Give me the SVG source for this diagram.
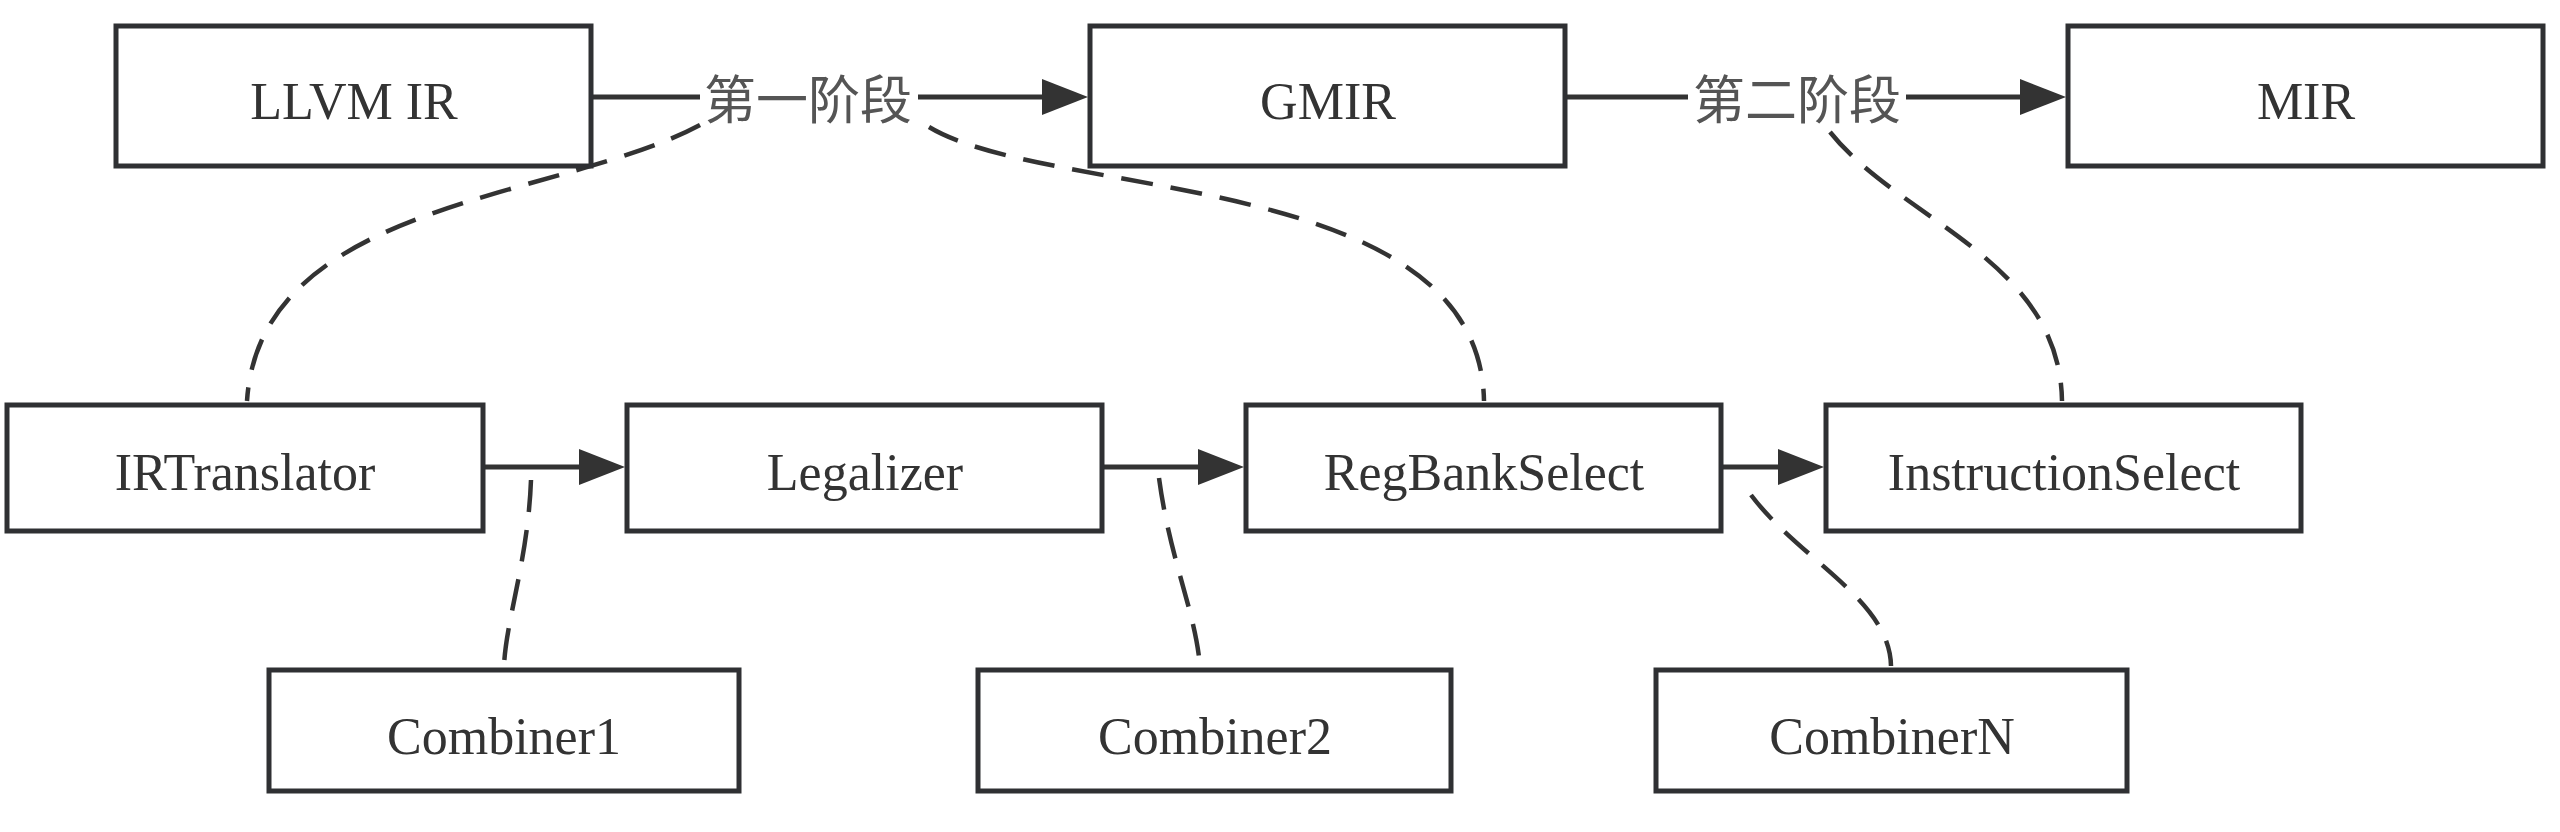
<svg xmlns="http://www.w3.org/2000/svg" width="2560" height="832" viewBox="0 0 2560 832">
<style>
.box{fill:#fff;stroke:#2f3033;stroke-width:5}
.t{font-family:"Liberation Serif","Times New Roman",serif;font-size:52px;fill:#333;text-anchor:middle}
.lbl{font-family:"Noto Sans CJK SC",sans-serif;font-size:52px;fill:#555;text-anchor:middle}
.arr{stroke:#333;stroke-width:5;fill:none}
.dash{stroke:#333;stroke-width:4.5;fill:none;stroke-dasharray:32 18}
</style>
<defs>
<marker id="ah" markerUnits="userSpaceOnUse" markerWidth="48" markerHeight="38" refX="0" refY="19" orient="auto">
<path d="M0,1 L46,19 L0,37 z" fill="#333"/>
</marker>
</defs>
<rect width="2560" height="832" fill="#fff"/>
<g id="connectors">
<line class="arr" x1="593" y1="97" x2="700" y2="97"/>
<line class="arr" x1="918" y1="97" x2="1042" y2="97" marker-end="url(#ah)"/>
<line class="arr" x1="1567" y1="97" x2="1688" y2="97"/>
<line class="arr" x1="1906" y1="97" x2="2020" y2="97" marker-end="url(#ah)"/>
<line class="arr" x1="485" y1="467" x2="579" y2="467" marker-end="url(#ah)"/>
<line class="arr" x1="1104" y1="467" x2="1198" y2="467" marker-end="url(#ah)"/>
<line class="arr" x1="1723" y1="467" x2="1778" y2="467" marker-end="url(#ah)"/>
<text class="lbl" x="808" y="119">第一阶段</text>
<text class="lbl" x="1797" y="119">第二阶段</text>
<path class="dash" d="M700,125 C560,200 260,200 247,401"/>
<path class="dash" d="M929,127 C1050,200 1480,170 1484,401"/>
<path class="dash" d="M1830,132 C1900,220 2060,260 2062,401"/>
<path class="dash" d="M531,480 C528,560 506,620 504,666"/>
<path class="dash" d="M1159,478 C1170,560 1195,610 1200,666"/>
<path class="dash" d="M1751,495 C1800,560 1890,600 1891,666"/>
</g>
<g id="llvmir"><rect class="box" x="116" y="26" width="475" height="140"/><text class="t" x="354" y="119">LLVM IR</text></g>
<g id="gmir"><rect class="box" x="1090" y="26" width="475" height="140"/><text class="t" x="1328" y="119">GMIR</text></g>
<g id="mir"><rect class="box" x="2068" y="26" width="475" height="140"/><text class="t" x="2306" y="119">MIR</text></g>
<g id="irtranslator"><rect class="box" x="7" y="405" width="476" height="126"/><text class="t" x="245" y="490">IRTranslator</text></g>
<g id="legalizer"><rect class="box" x="627" y="405" width="475" height="126"/><text class="t" x="865" y="490">Legalizer</text></g>
<g id="regbankselect"><rect class="box" x="1246" y="405" width="475" height="126"/><text class="t" x="1484" y="490">RegBankSelect</text></g>
<g id="instructionselect"><rect class="box" x="1826" y="405" width="475" height="126"/><text class="t" x="2064" y="490">InstructionSelect</text></g>
<g id="combiner1"><rect class="box" x="269" y="670" width="470" height="121"/><text class="t" x="504" y="754">Combiner1</text></g>
<g id="combiner2"><rect class="box" x="978" y="670" width="473" height="121"/><text class="t" x="1215" y="754">Combiner2</text></g>
<g id="combinerN"><rect class="box" x="1656" y="670" width="471" height="121"/><text class="t" x="1892" y="754">CombinerN</text></g>
</svg>
